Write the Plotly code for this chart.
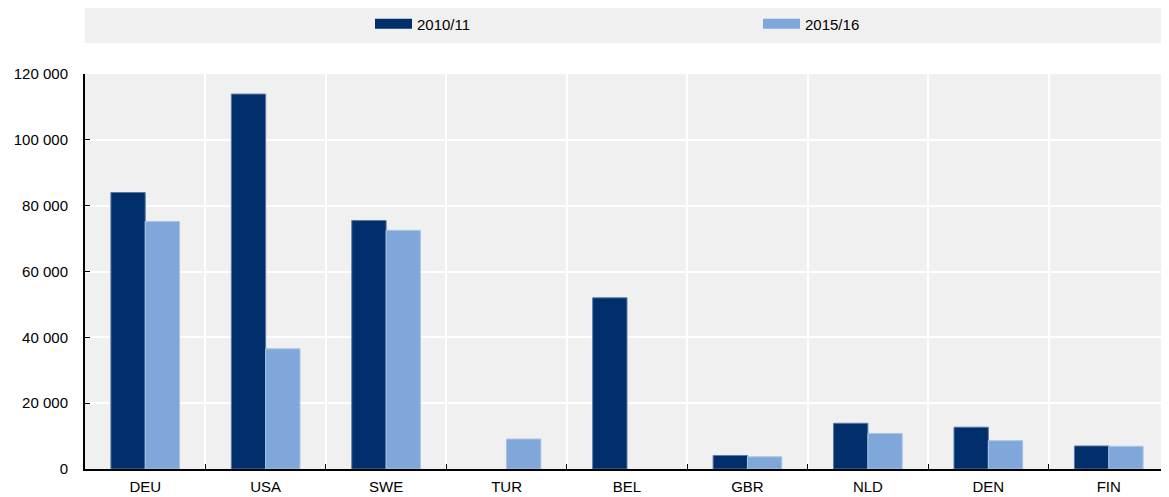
import plotly.graph_objects as go

categories = ["DEU", "USA", "SWE", "TUR", "BEL", "GBR", "NLD", "DEN", "FIN"]
series_2010 = [84000, 113900, 75500, None, 52000, 4100, 13900, 12700, 7000]
series_2015 = [75200, 36500, 72500, 9100, None, 3700, 10800, 8600, 6900]
series_names = ["2010/11", "2015/16"]
y_ticks = [0, 20000, 40000, 60000, 80000, 100000, 120000]

FONT = "Liberation Sans, Arial, sans-serif"
FS = 15
C_DARK, C_LIGHT = "#002F6C", "#7FA7D9"

fig = go.Figure()
fig.add_trace(go.Bar(name=series_names[0], x=categories, y=series_2010, showlegend=False,
                     marker=dict(color=C_DARK, line=dict(color="#5A7AA6", width=1))))
fig.add_trace(go.Bar(name=series_names[1], x=categories, y=series_2015, showlegend=False,
                     marker=dict(color=C_LIGHT, line=dict(color="#A9C4E6", width=1))))
# legend entries drawn as wide rectangular swatches
for name, col in zip(series_names, [C_DARK, C_LIGHT]):
    fig.add_trace(go.Scatter(name=name, x=[None], y=[None], mode="lines",
                             line=dict(color=col, width=15), hoverinfo="skip"))

OFF = 8  # page body margin
W, H = 1169 - OFF, 497 - OFF
plot_left, plot_top, plot_bottom = 85, 74, 469   # in window pixels
left = plot_left - OFF
top = plot_top - OFF
bottom = (H + OFF) - plot_bottom
ph = plot_bottom - plot_top
pw = 1169 - plot_left

def py(pix):
    return (plot_bottom - pix) / ph

def px(pix):
    return (pix - plot_left) / pw

fig.add_shape(type="rect", xref="paper", yref="paper",
              x0=0, x1=1, y0=py(43), y1=py(7),
              fillcolor="#F0F0F0", line=dict(width=0), layer="below")

fig.update_layout(
    width=W, height=H,
    margin=dict(l=left, r=0, t=top, b=bottom, autoexpand=False),
    paper_bgcolor="white", plot_bgcolor="#F0F0F0",
    barmode="group", bargap=0.43, bargroupgap=0,
    separators=", ",
    font=dict(family=FONT, size=FS, color="#000000"),
    legend=dict(orientation="h", x=px(370), xanchor="left",
                y=py(24), yanchor="middle", bgcolor="rgba(0,0,0,0)",
                entrywidth=336, entrywidthmode="pixels", itemwidth=37,
                font=dict(family=FONT, size=FS, color="#000000")),
    xaxis=dict(type="category", tickson="boundaries", showgrid=True,
               gridcolor="white", gridwidth=2, showline=True, linecolor="black",
               linewidth=2, ticks="inside", ticklen=5, tickcolor="black",
               ticklabelstandoff=3,
               tickfont=dict(family=FONT, size=FS, color="#000000")),
    yaxis=dict(range=[0, 120000], tickvals=y_ticks, tickformat=",d",
               showgrid=True, gridcolor="white", gridwidth=2, showline=True,
               linecolor="black", linewidth=2, ticks="inside", ticklen=5,
               tickcolor="black", ticklabelstandoff=12, zeroline=False,
               tickfont=dict(family=FONT, size=FS, color="#000000")),
)

fig.write_html("out.html")
